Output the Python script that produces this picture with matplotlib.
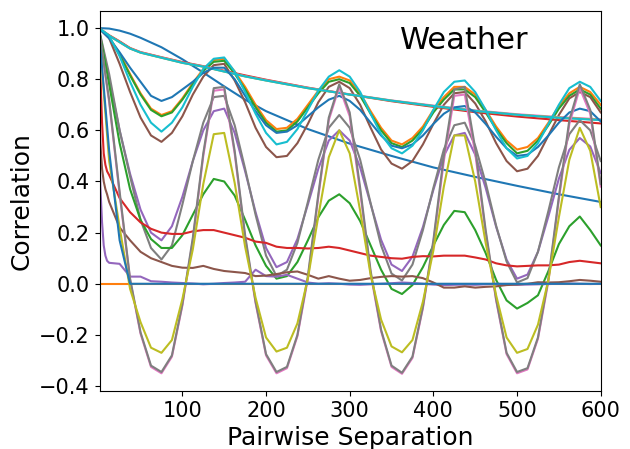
import numpy as np
import matplotlib
matplotlib.use('Agg')
from matplotlib import pyplot as plt

# lags (pairwise separation)
lag = np.arange(0, 601, 12.5)
lag_s = [0, 12.5, 25, 37.5, 50, 75, 100, 125, 150, 175, 200, 250, 300, 350, 400, 450, 500, 550, 600]
lag_f = np.concatenate([[0, 1, 2, 4, 6, 8, 10], lag[1:]])

p_mbar = [1.0, 0.998, 0.99, 0.978, 0.962, 0.925, 0.878, 0.826, 0.772, 0.72, 0.675, 0.605, 0.548, 0.50, 0.455, 0.418, 0.383, 0.35, 0.32]
T = [1.0, 0.965, 0.90, 0.82, 0.745, 0.685, 0.66, 0.675, 0.725, 0.785, 0.84, 0.875, 0.88,
     0.83, 0.77, 0.70, 0.64, 0.605, 0.61, 0.645, 0.70, 0.755, 0.80, 0.81,
     0.795, 0.745, 0.675, 0.61, 0.56, 0.545, 0.57, 0.615, 0.68, 0.73, 0.77, 0.77,
     0.74, 0.68, 0.615, 0.56, 0.525, 0.535, 0.57, 0.63, 0.695, 0.745, 0.77, 0.75, 0.70]
Tpot = [1.0, 0.963, 0.895, 0.815, 0.74, 0.68, 0.655, 0.67, 0.72, 0.78, 0.833, 0.868, 0.872,
        0.822, 0.76, 0.69, 0.63, 0.595, 0.60, 0.635, 0.69, 0.745, 0.79, 0.80,
        0.785, 0.735, 0.665, 0.60, 0.55, 0.535, 0.56, 0.605, 0.67, 0.72, 0.76, 0.76,
        0.73, 0.67, 0.605, 0.55, 0.51, 0.52, 0.56, 0.62, 0.685, 0.735, 0.76, 0.74, 0.685]
Tdew = [1.0, 0.972, 0.948, 0.922, 0.906, 0.886, 0.867, 0.851, 0.833, 0.815, 0.798, 0.767, 0.74, 0.714, 0.692, 0.671, 0.654, 0.64, 0.627]
rh = [1.0, 0.80, 0.60, 0.43, 0.29, 0.20, 0.17, 0.225, 0.34, 0.48, 0.60, 0.675, 0.685,
      0.59, 0.44, 0.28, 0.14, 0.065, 0.085, 0.175, 0.31, 0.45, 0.56, 0.60,
      0.56, 0.455, 0.312, 0.172, 0.075, 0.05, 0.106, 0.222, 0.367, 0.50, 0.58, 0.59,
      0.505, 0.375, 0.223, 0.094, 0.02, 0.036, 0.125, 0.264, 0.411, 0.524, 0.57, 0.537, 0.433]
VPmax = [1.0, 0.96, 0.86, 0.75, 0.65, 0.58, 0.555, 0.59, 0.655, 0.74, 0.81, 0.855, 0.86,
         0.795, 0.71, 0.61, 0.535, 0.495, 0.50, 0.55, 0.625, 0.71, 0.77, 0.79,
         0.765, 0.70, 0.61, 0.525, 0.47, 0.45, 0.48, 0.545, 0.625, 0.70, 0.745, 0.75,
         0.705, 0.635, 0.55, 0.48, 0.44, 0.45, 0.50, 0.58, 0.66, 0.725, 0.75, 0.73, 0.67]
VPact = [1.0, 0.97, 0.945, 0.92, 0.905, 0.885, 0.865, 0.85, 0.831, 0.812, 0.796, 0.766, 0.741, 0.717, 0.697, 0.678, 0.663, 0.652, 0.643]
VPdef = [1.0, 0.82, 0.60, 0.42, 0.25, 0.14, 0.095, 0.15, 0.31, 0.48, 0.63, 0.73, 0.735,
         0.62, 0.45, 0.27, 0.11, 0.03, 0.055, 0.16, 0.32, 0.485, 0.61, 0.66,
         0.61, 0.485, 0.315, 0.15, 0.04, 0.013, 0.075, 0.21, 0.375, 0.525, 0.62, 0.63,
         0.54, 0.395, 0.227, 0.087, 0.005, 0.022, 0.125, 0.285, 0.455, 0.585, 0.64, 0.60, 0.48]
sh = [1.0, 0.97, 0.945, 0.92, 0.904, 0.884, 0.864, 0.849, 0.83, 0.811, 0.795, 0.765, 0.74, 0.716, 0.695, 0.676, 0.661, 0.65, 0.641]
H2OC = [1.0, 0.97, 0.945, 0.92, 0.904, 0.884, 0.864, 0.849, 0.83, 0.811, 0.795, 0.765, 0.74, 0.716, 0.695, 0.676, 0.661, 0.649, 0.64]
rho = [1.0, 0.96, 0.905, 0.845, 0.79, 0.735, 0.715, 0.73, 0.76, 0.79, 0.825, 0.845, 0.845,
       0.80, 0.735, 0.675, 0.62, 0.59, 0.595, 0.62, 0.655, 0.69, 0.72, 0.735,
       0.715, 0.68, 0.63, 0.58, 0.54, 0.53, 0.545, 0.58, 0.625, 0.665, 0.69, 0.695,
       0.67, 0.625, 0.575, 0.53, 0.50, 0.505, 0.535, 0.58, 0.63, 0.67, 0.685, 0.675, 0.635]
wv_lag = [0, 600]
wv = [0.0, 0.0]
max_wv = [1.0, 0.78, 0.55, 0.37, 0.25, 0.175, 0.14, 0.14, 0.19, 0.27, 0.35, 0.41, 0.40,
          0.345, 0.25, 0.15, 0.07, 0.02, 0.03, 0.085, 0.17, 0.26, 0.325, 0.35,
          0.315, 0.245, 0.15, 0.055, -0.02, -0.04, -0.005, 0.065, 0.15, 0.23, 0.285, 0.28,
          0.21, 0.12, 0.015, -0.065, -0.097, -0.075, -0.045, 0.05, 0.155, 0.225, 0.263, 0.21, 0.15]
wd = [1.0, 0.92, 0.82, 0.63, 0.51, 0.465, 0.44,
      0.425, 0.335, 0.28, 0.24, 0.215, 0.2, 0.195, 0.195,
      0.205, 0.21, 0.21, 0.2, 0.19, 0.18, 0.165, 0.16,
      0.145, 0.14, 0.14, 0.138, 0.14, 0.145, 0.14, 0.13,
      0.12, 0.11, 0.105, 0.10, 0.098, 0.105, 0.108, 0.107,
      0.11, 0.11, 0.11, 0.103, 0.095, 0.08, 0.072, 0.068,
      0.07, 0.072, 0.072, 0.075, 0.085, 0.09, 0.085, 0.08]
rain = [1.0, 0.55, 0.38, 0.24, 0.15, 0.11, 0.09,
        0.082, 0.078, 0.028, 0.028, 0.01, 0.008, 0.005, 0.003,
        0.001, -0.002, 0.0, 0.003, 0.005, 0.008, 0.055, 0.03,
        0.028, 0.035, 0.02, 0.005, 0.0, 0.002, 0.0, -0.003,
        -0.004, -0.002, 0.0, 0.002, 0.005, 0.003, 0.0, -0.003,
        -0.005, -0.004, -0.003, -0.004, -0.002, 0.0, -0.002, -0.004,
        -0.003, -0.002, -0.001, 0.0, 0.001, 0.0, -0.001, 0.0]
raining = [1.0, 0.7, 0.55, 0.45, 0.4, 0.37, 0.35,
           0.32, 0.22, 0.17, 0.125, 0.1, 0.085, 0.07, 0.063,
           0.062, 0.07, 0.058, 0.05, 0.046, 0.042, 0.03, 0.032,
           0.038, 0.045, 0.048, 0.035, 0.02, 0.03, 0.02, 0.012,
           0.015, 0.022, 0.027, 0.03, 0.028, 0.03, 0.022, 0.005,
           -0.015, -0.015, -0.01, -0.015, -0.012, -0.01, -0.005, -0.003,
           0.0, 0.006, 0.005, 0.006, 0.01, 0.015, 0.012, 0.008]
SWDR = [1.0, 0.71, 0.35, 0.015, -0.195, -0.325, -0.35, -0.285, -0.085, 0.17, 0.50, 0.755, 0.76,
        0.51, 0.18, -0.075, -0.28, -0.35, -0.33, -0.205, 0.02, 0.34, 0.64, 0.77,
        0.655, 0.36, 0.04, -0.185, -0.325, -0.352, -0.29, -0.095, 0.16, 0.48, 0.735, 0.74,
        0.51, 0.2, -0.065, -0.275, -0.35, -0.335, -0.215, 0.01, 0.33, 0.625, 0.765, 0.665, 0.38]
PAR = [1.0, 0.72, 0.36, 0.02, -0.19, -0.32, -0.345, -0.28, -0.08, 0.18, 0.51, 0.765, 0.77,
       0.52, 0.19, -0.07, -0.275, -0.345, -0.325, -0.2, 0.03, 0.35, 0.65, 0.78,
       0.67, 0.375, 0.05, -0.18, -0.32, -0.348, -0.285, -0.09, 0.17, 0.50, 0.76, 0.77,
       0.53, 0.21, -0.06, -0.27, -0.345, -0.33, -0.21, 0.02, 0.34, 0.64, 0.78, 0.68, 0.39]
max_PAR = [1.0, 0.48, 0.22, -0.02, -0.15, -0.25, -0.27, -0.22, -0.06, 0.135, 0.39, 0.585, 0.59,
           0.395, 0.145, -0.055, -0.21, -0.265, -0.25, -0.155, 0.02, 0.265, 0.495, 0.60,
           0.51, 0.285, 0.035, -0.14, -0.245, -0.268, -0.22, -0.07, 0.13, 0.38, 0.58, 0.58,
           0.40, 0.16, -0.045, -0.21, -0.27, -0.255, -0.16, 0.015, 0.26, 0.485, 0.61, 0.52, 0.30]
Tlog = [1.0, 0.97, 0.89, 0.79, 0.70, 0.63, 0.595, 0.63, 0.69, 0.77, 0.84, 0.88, 0.885,
        0.83, 0.75, 0.665, 0.59, 0.545, 0.555, 0.605, 0.68, 0.755, 0.81, 0.835,
        0.81, 0.75, 0.665, 0.585, 0.53, 0.51, 0.54, 0.60, 0.68, 0.75, 0.79, 0.795,
        0.75, 0.68, 0.60, 0.53, 0.49, 0.50, 0.55, 0.625, 0.70, 0.765, 0.79, 0.77, 0.715]
OT_lag = [0, 12.5, 25, 37.5, 600]
OT = [1.0, 0.52, 0.17, 0.0, 0.0]

series = [
    (lag_s, p_mbar), (lag, T), (lag, Tpot), (lag_s, Tdew), (lag, rh),
    (lag, VPmax), (lag_s, VPact), (lag, VPdef), (lag_s, sh), (lag_s, H2OC),
    (lag, rho), (wv_lag, wv), (lag, max_wv), (lag_f, wd), (lag_f, rain),
    (lag_f, raining), (lag, SWDR), (lag, PAR), (lag, max_PAR), (lag, Tlog),
    (OT_lag, OT),
]

fig = plt.figure(figsize=(6.3, 4.49), dpi=100)
ax = fig.add_axes([0.158, 0.129, 0.7955, 0.847])
for x, y in series:
    ax.plot(x, y)

ax.set_xlim(1, 600)
ax.set_xlabel('Pairwise Separation', fontsize=18)
ax.set_ylabel('Correlation', fontsize=18)
ax.tick_params(labelsize=15)
ax.text(0.6, 0.9, 'Weather', transform=ax.transAxes, fontsize=22)

fig.savefig('out.png', dpi=100)
